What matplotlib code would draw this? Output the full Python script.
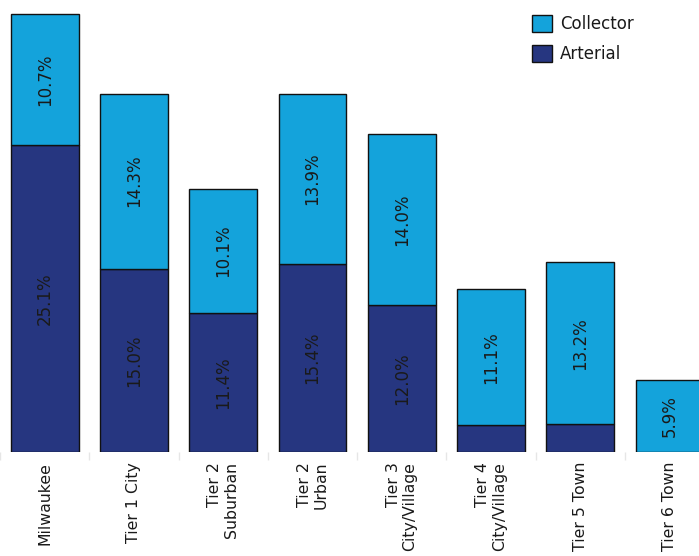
import matplotlib
matplotlib.use("Agg")
import matplotlib.pyplot as plt
from matplotlib.patches import Patch

categories = ["Milwaukee", "Tier 1 City", "Tier 2\nSuburban", "Tier 2\nUrban",
              "Tier 3\nCity/Village", "Tier 4\nCity/Village", "Tier 5 Town", "Tier 6 Town"]
arterial = [25.1, 15.0, 11.4, 15.4, 12.0, 2.2, 2.3, 0.0]
collector = [10.7, 14.3, 10.1, 13.9, 14.0, 11.1, 13.2, 5.9]
arterial_labels = ["25.1%", "15.0%", "11.4%", "15.4%", "12.0%", "", "", ""]
collector_labels = ["10.7%", "14.3%", "10.1%", "13.9%", "14.0%", "11.1%", "13.2%", "5.9%"]

c_collector = "#14a3db"
c_arterial = "#263680"
text_color = "#1a1a1a"

W, H = 699, 556
fig = plt.figure(figsize=(W / 100, H / 100), dpi=100)
base = 452
ax = fig.add_axes([0, 1 - base / H, 1, base / H])

x = list(range(len(categories)))
width = 0.76
ax.bar(x, arterial, width, color=c_arterial, edgecolor="#111111", linewidth=1.0, label="Arterial")
ax.bar(x, collector, width, bottom=arterial, color=c_collector, edgecolor="#111111",
       linewidth=1.0, label="Collector")

for i in x:
    if arterial_labels[i]:
        ax.text(i, arterial[i] / 2, arterial_labels[i], rotation=90, ha="center", va="center",
                fontsize=12, color=text_color)
    ax.text(i, arterial[i] + collector[i] / 2, collector_labels[i], rotation=90,
            ha="center", va="center", fontsize=12, color=text_color)

ax.set_xlim(-0.5, 7.33)
ax.set_ylim(0, base / 12.23)
ax.set_yticks([])
ax.set_xticks(x)
ax.set_xticklabels(categories, rotation=90, ha="center", va="top",
                   multialignment="right", fontsize=11.3, color=text_color,
                   linespacing=1.15)
ax.tick_params(axis="x", which="major", length=0, pad=7)
ax.set_xticks([i + 0.5 for i in range(-1, 7)], minor=True)
ax.tick_params(axis="x", which="minor", length=6, color="#e6e6e6", width=1)
for s in ax.spines.values():
    s.set_visible(False)

handles = [Patch(facecolor=c_collector, edgecolor="#111111", label="Collector"),
           Patch(facecolor=c_arterial, edgecolor="#111111", label="Arterial")]
ax.legend(handles=handles, loc="upper left",
          bbox_to_anchor=(532 / W, 1 - 15 / H), bbox_transform=fig.transFigure,
          frameon=False, borderpad=0, borderaxespad=0,
          fontsize=12, handlelength=1.2, handleheight=1.2, handletextpad=0.5,
          labelspacing=0.7, labelcolor=text_color)

fig.savefig("out.png", dpi=100)
